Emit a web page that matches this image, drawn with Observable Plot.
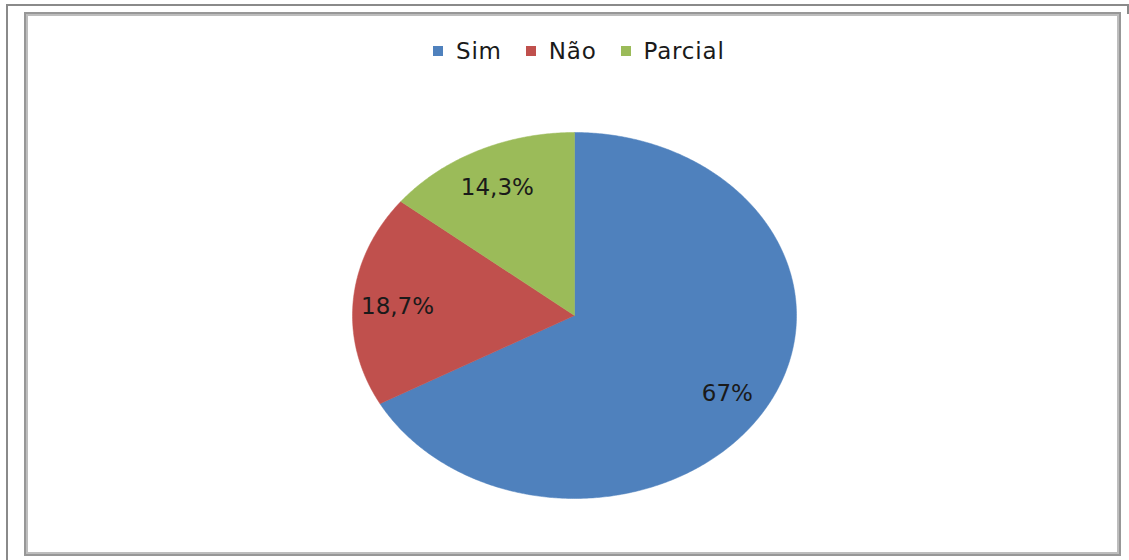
<!DOCTYPE html>
<html>
<head>
<meta charset="utf-8">
<script src="https://cdn.jsdelivr.net/npm/d3@7"></script>
<script src="https://cdn.jsdelivr.net/npm/@observablehq/plot@0.6"></script>
<style>
  html, body { margin: 0; padding: 0; background: #fff; }
  body { width: 1129px; height: 560px; position: relative; overflow: hidden; font-family: "DejaVu Sans", sans-serif; }
  #outer { position: absolute; left: 6px; top: 4px; width: 1140px; height: 570px; border: 2px solid #8a8a8a; box-sizing: border-box; }
  #stub { position: absolute; left: 1127px; top: 4px; width: 2px; height: 10px; background: #8a8a8a; }
  #inner { position: absolute; left: 24px; top: 12px; width: 1097px; height: 544px; border: 2px solid #979797; box-shadow: inset 2px 2px 0 #bdbdbd, inset -2px -2px 0 #bdbdbd; box-sizing: border-box; }
  #chart { position: absolute; left: 0; top: 0; }
  #legend { position: absolute; left: 433px; top: 36px; height: 30px; display: flex; align-items: center; font-size: 23px; color: #1a1a1a; letter-spacing: 0.8px; white-space: nowrap; }
  .item { display: flex; align-items: center; margin-right: 24px; }
  .sw { width: 10px; height: 10px; margin-right: 13px; flex-shrink: 0; }
</style>
</head>
<body>
<div id="outer"></div>
<div id="stub"></div>
<div id="inner"></div>
<div id="chart"></div>
<div id="legend"></div>
<script>
const categories = ["Sim", "Não", "Parcial"];
const values = [67, 18.7, 14.3];
const labels = ["67%", "18,7%", "14,3%"];
const colors = ["#4F81BD", "#C0504D", "#9BBB59"];

const total = d3.sum(values);
let acc = 0;
const slices = categories.map((c, i) => {
  const a0 = acc / total * 2 * Math.PI;
  acc += values[i];
  const a1 = acc / total * 2 * Math.PI;
  return {category: c, a0, a1, label: labels[i]};
});

// outline points of each slice (geometry from the data angles)
const pts = [];
slices.forEach(s => {
  pts.push({category: s.category, x: 0, y: 0});
  const n = Math.max(2, Math.ceil((s.a1 - s.a0) / (Math.PI / 360)));
  for (let k = 0; k <= n; k++) {
    const a = s.a0 + (s.a1 - s.a0) * k / n;
    pts.push({category: s.category, x: Math.sin(a), y: Math.cos(a)});
  }
  pts.push({category: s.category, x: 0, y: 0});
});

const labelPts = slices.map(s => {
  const m = (s.a0 + s.a1) / 2;
  return {label: s.label, x: Math.sin(m) * 0.8, y: Math.cos(m) * 0.8};
});

const chart = Plot.plot({
  width: 1129,
  height: 560,
  marginLeft: 352,
  marginRight: 333,
  marginTop: 132,
  marginBottom: 62,
  x: {domain: [-1, 1], axis: null},
  y: {domain: [-1, 1], axis: null},
  color: {domain: categories, range: colors},
  style: {background: "transparent", fontFamily: "'DejaVu Sans', sans-serif"},
  marks: [
    Plot.line(pts, {x: "x", y: "y", z: "category", fill: "category", stroke: "category", strokeWidth: 0.5, curve: "linear"}),
    Plot.text(labelPts, {x: "x", y: "y", text: "label", fontSize: 23, fill: "#1a1a1a", dy: 4, dx: 0})
  ]
});
document.getElementById("chart").appendChild(chart);

const legend = document.getElementById("legend");
categories.forEach((c, i) => {
  const it = document.createElement("div");
  it.className = "item";
  const sw = document.createElement("div");
  sw.className = "sw";
  sw.style.background = colors[i];
  const t = document.createElement("span");
  t.textContent = c;
  it.appendChild(sw);
  it.appendChild(t);
  legend.appendChild(it);
});
</script>
</body>
</html>
